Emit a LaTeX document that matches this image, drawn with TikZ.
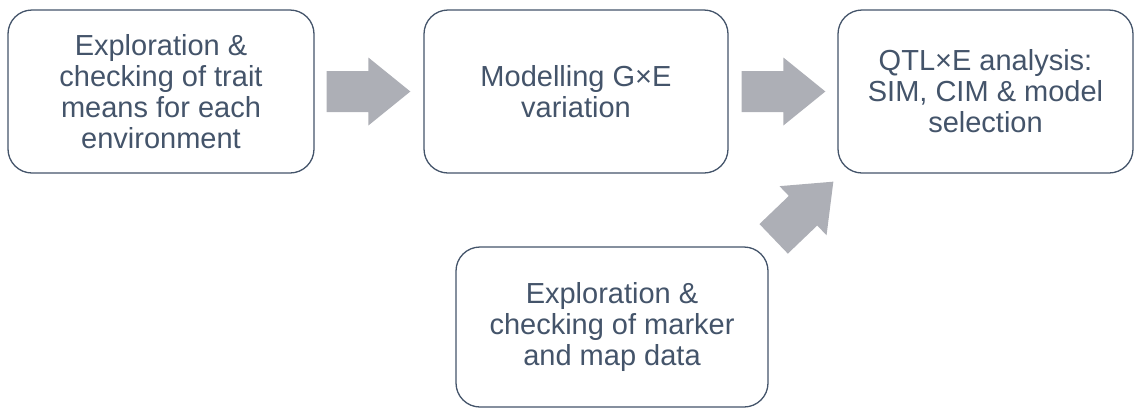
\documentclass[tikz,border=0pt]{standalone}
\usepackage{fontspec}
\setmainfont{Liberation Sans}
\usetikzlibrary{calc}
\definecolor{boxline}{HTML}{44546A}
\definecolor{arrowgray}{HTML}{ADAFB6}
\tikzset{
  stepbox/.style={draw=boxline, line width=1.3pt, rounded corners=24pt, fill=white,
    text=boxline, align=center, inner sep=0pt,
    font=\fontsize{29}{31}\selectfont},
  arrowbody/.style={fill=arrowgray}
}
\newcommand\blockarrow[2]{%
  \coordinate (hb) at ($(#2)!42pt!(#1)$);
  \fill[arrowbody] ($(#1)!20.5pt!90:(#2)$) -- ($(hb)!20.5pt!90:(#2)$)
    -- ($(hb)!34pt!90:(#2)$) -- (#2) -- ($(hb)!34pt!-90:(#2)$)
    -- ($(hb)!20.5pt!-90:(#2)$) -- ($(#1)!20.5pt!-90:(#2)$) -- cycle;}
\begin{document}
\begin{tikzpicture}[x=1pt,y=-1pt]
\useasboundingbox (0,0) rectangle (1135,408);
\node[stepbox, minimum width=306pt, minimum height=163pt] (b1) at (161,91.5)
  {Exploration \&\\checking of trait\\means for each\\environment};
\node[stepbox, minimum width=304pt, minimum height=163pt] (b2) at (576,91.5)
  {Modelling G×E\\variation};
\node[stepbox, minimum width=295pt, minimum height=163pt] (b3) at (985.5,91.5)
  {QTL×E analysis:\\SIM, CIM \& model\\selection};
\node[stepbox, minimum width=312pt, minimum height=160pt] (b4) at (612,327)
  {Exploration \&\\checking of marker\\and map data};
\coordinate (a1s) at ($(b1.east)+(12,0)$);
\coordinate (a1e) at ($(b2.west)+(-13,0)$);
\coordinate (a2s) at ($(b2.east)+(13,0)$);
\coordinate (a2e) at ($(b3.west)+(-12,0)$);
\coordinate (a3s) at ($(b4.north east)+(5,-7.5)$);
\coordinate (a3e) at ($(b3.south west)+(-4,8)$);
\blockarrow{a1s}{a1e}
\blockarrow{a2s}{a2e}
\blockarrow{a3s}{a3e}
\end{tikzpicture}
\end{document}
